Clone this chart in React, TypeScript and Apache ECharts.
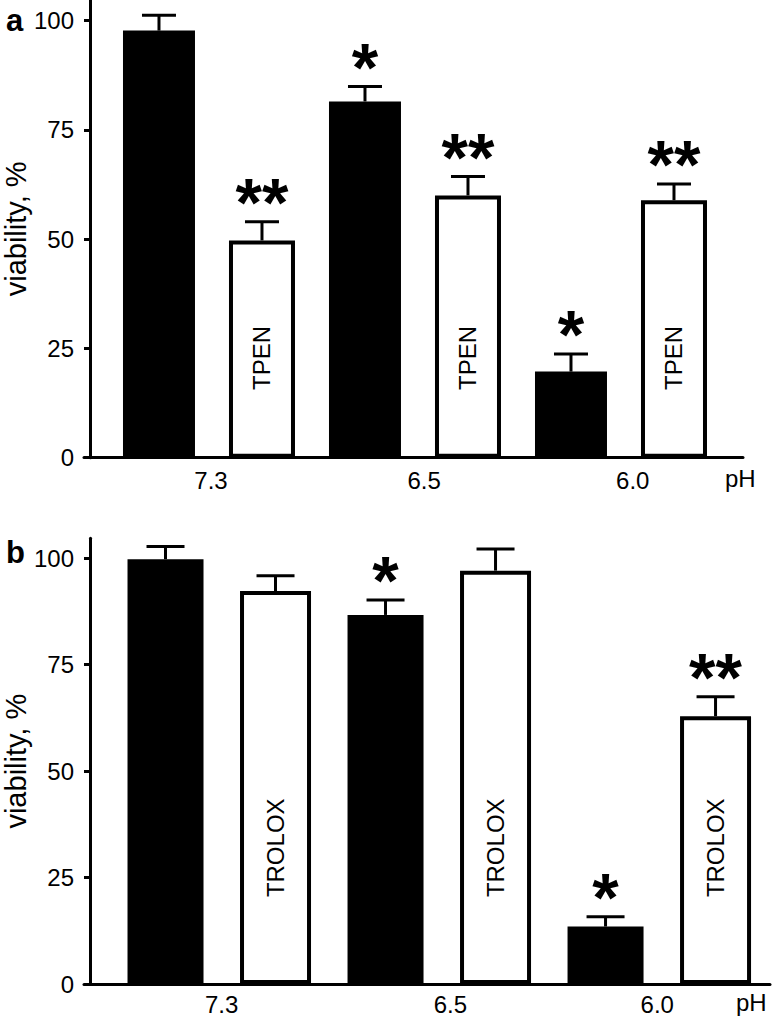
import React, { useEffect, useRef } from 'react';
import * as echarts from 'echarts';

const FONT = '"Liberation Sans", Arial, Helvetica, sans-serif';

// ---- data ----
const groupLabels = ['7.3', '6.5', '6.0'];
const yTicks = [0, 25, 50, 75, 100];

const aControl = [97.7, 81.5, 19.7];
const aControlErr = [3.5, 3.4, 4.0];
const aControlSig = ['', '*', '*'];
const aTpen = [49.7, 60.0, 58.9];
const aTpenErr = [4.3, 4.3, 3.7];
const aTpenSig = ['**', '**', '**'];
const aTreatName = 'TPEN';

const bControl = [99.8, 86.7, 13.5];
const bControlErr = [3.0, 3.5, 2.3];
const bControlSig = ['', '*', '*'];
const bTrolox = [92.3, 97.1, 62.9];
const bTroloxErr = [3.6, 5.1, 4.6];
const bTroloxSig = ['', '', '**'];
const bTreatName = 'TROLOX';

// ---- layout helpers ----
const Y_MAX = 104.7;

function interleave(ctrl: number[], ctrlErr: number[], trt: number[], trtErr: number[]) {
  const out: number[][] = [];
  for (let k = 0; k < ctrl.length; k++) {
    out.push([2 * k, ctrl[k], ctrlErr[k]]);
    out.push([2 * k + 1, trt[k], trtErr[k]]);
  }
  return out;
}
function interleaveStr(a: string[], b: string[]) {
  const out: string[] = [];
  for (let k = 0; k < a.length; k++) { out.push(a[k]); out.push(b[k]); }
  return out;
}

function makeRender(sigs: string[], treatName: string, labelVal: number, capHalf: number) {
  return (params: any, api: any) => {
    const i = params.dataIndex;
    const x = api.value(0);
    const y = api.value(1);
    const e = api.value(2);
    const p0 = api.coord([x, y]);
    const p1 = api.coord([x, y + e]);
    const children: any[] = [
      { type: 'line', shape: { x1: p0[0], y1: p0[1], x2: p1[0], y2: p1[1] }, style: { stroke: '#000', lineWidth: 3 } },
      { type: 'line', shape: { x1: p1[0] - capHalf, y1: p1[1], x2: p1[0] + capHalf, y2: p1[1] }, style: { stroke: '#000', lineWidth: 3 } },
    ];
    if (sigs[i]) {
      children.push({
        type: 'text', x: p1[0], y: p1[1] - 20,
        style: { text: sigs[i], fontSize: 68, fontWeight: 'bold', fontFamily: FONT, fill: '#000', align: 'center', verticalAlign: 'middle' },
      });
    }
    if (i % 2 === 1) {
      const q = api.coord([x, labelVal]);
      children.push({
        type: 'text', x: q[0], y: q[1], rotation: Math.PI / 2,
        style: { text: treatName, fontSize: 24, fontFamily: FONT, fill: '#000', align: 'center', verticalAlign: 'middle' },
      });
    }
    return { type: 'group', children };
  };
}

function xAxisPair(gridIndex: number, min: number, max: number, labelPos: number[], nameGap: number, margin: number) {
  const shown = {
    type: 'value', gridIndex, min, max,
    axisLine: { show: true, onZero: false, lineStyle: { color: '#000', width: 3 } },
    axisTick: { show: false },
    splitLine: { show: false },
    axisLabel: {
      customValues: labelPos,
      color: '#000', fontSize: 24, lineHeight: 18, fontFamily: FONT, margin,
      formatter: (v: number) => {
        let best = 0;
        for (let k = 1; k < labelPos.length; k++) if (Math.abs(labelPos[k] - v) < Math.abs(labelPos[best] - v)) best = k;
        return groupLabels[best];
      },
    },
    name: 'pH', nameLocation: 'end', nameGap, nameMoveOverlap: false,
    nameTextStyle: { color: '#000', fontSize: 24, lineHeight: 18, fontFamily: FONT, align: 'left', verticalAlign: 'top', padding: [margin - 2, 0, 0, 0] },
  };
  const hidden = { type: 'value', gridIndex, min, max, show: false };
  return [shown, hidden];
}

function yAxisCfg(gridIndex: number) {
  return {
    type: 'value', gridIndex, min: 0, max: Y_MAX, offset: -6,
    axisLine: { show: true, onZero: false, lineStyle: { color: '#000', width: 3 } },
    axisTick: { show: true, inside: false, length: 6, customValues: yTicks, lineStyle: { color: '#000', width: 3 } },
    axisLabel: { customValues: yTicks, color: '#000', fontSize: 24, fontFamily: FONT, margin: 16 },
    splitLine: { show: false },
    name: 'viability, %', nameLocation: 'middle', nameRotate: 90, nameGap: 60, nameMoveOverlap: false,
    nameTextStyle: { color: '#000', fontSize: 29, fontFamily: FONT },
  };
}

function barSeries(xAxisIndex: number, yAxisIndex: number, xs: number[], vals: number[], width: number, white: boolean) {
  return {
    type: 'bar', xAxisIndex, yAxisIndex, barWidth: width,
    data: vals.map((v, k) => [xs[k], v]),
    itemStyle: white ? { color: '#fff', borderColor: '#000', borderWidth: 4 } : { color: '#000' },
    z: 2,
  };
}

export default function App() {
  const ref = useRef<HTMLDivElement>(null);
  useEffect(() => {
    if (!ref.current) return;
    const chart = echarts.init(ref.current, null, { renderer: 'svg' });
    const ctrlX = [0, 2, 4];
    const trtX = [1, 3, 5];
    const [ax0, ax1] = xAxisPair(0, -0.728, 5.67, [0.505, 2.575, 4.6], -18, 14);
    const [bx0, bx1] = xAxisPair(1, -0.741, 5.495, [0.51, 2.59, 4.47], -34, 11);
    chart.setOption({
      animation: false,
      backgroundColor: '#fff',
      title: [
        { text: 'a', left: 1, top: 0, textStyle: { fontSize: 31, fontWeight: 'bold', color: '#000', fontFamily: FONT } },
        { text: 'b', left: 1, top: 532, textStyle: { fontSize: 31, fontWeight: 'bold', color: '#000', fontFamily: FONT } },
      ],
      grid: [
        { left: 84, top: 0, width: 659, height: 457.7, outerBoundsMode: 'none', containLabel: false },
        { left: 84, top: 538.3, width: 686, height: 445.7, outerBoundsMode: 'none', containLabel: false },
      ],
      xAxis: [ax0, ax1, bx0, bx1],
      yAxis: [yAxisCfg(0), yAxisCfg(1)],
      series: [
        barSeries(0, 0, ctrlX, aControl, 72, false),
        barSeries(1, 0, trtX, aTpen, 66, true),
        {
          type: 'custom', xAxisIndex: 0, yAxisIndex: 0, z: 5, clip: false,
          data: interleave(aControl, aControlErr, aTpen, aTpenErr),
          renderItem: makeRender(interleaveStr(aControlSig, aTpenSig), aTreatName, 22.8, 17),
        },
        barSeries(2, 1, ctrlX, bControl, 76, false),
        barSeries(3, 1, trtX, bTrolox, 71, true),
        {
          type: 'custom', xAxisIndex: 2, yAxisIndex: 1, z: 5, clip: false,
          data: interleave(bControl, bControlErr, bTrolox, bTroloxErr),
          renderItem: makeRender(interleaveStr(bControlSig, bTroloxSig), bTreatName, 32, 19),
        },
      ],
    });
    return () => chart.dispose();
  }, []);
  return <div ref={ref} style={{ position: 'fixed', left: 0, top: 0, width: 777, height: 1016 }} />;
}
